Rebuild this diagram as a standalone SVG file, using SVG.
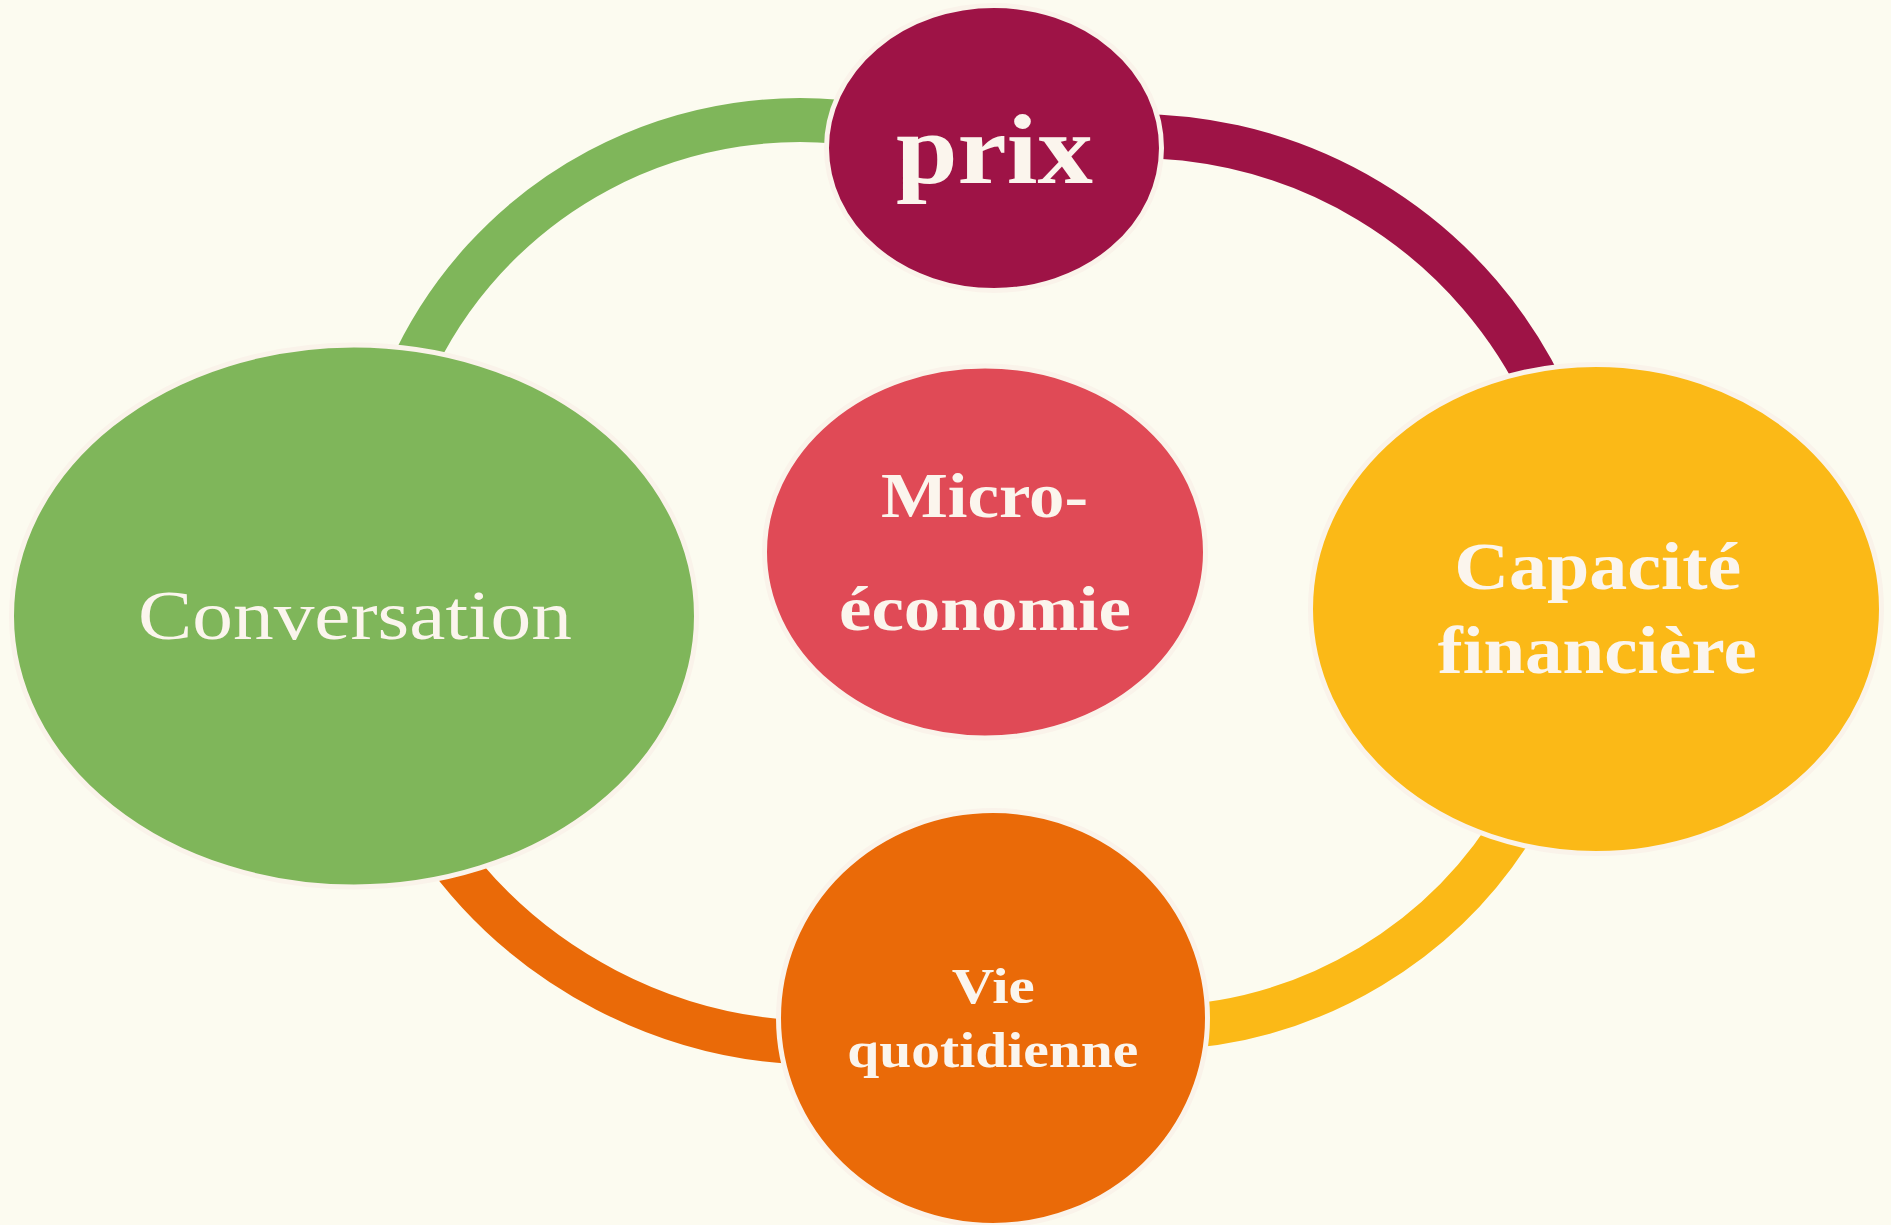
<svg xmlns="http://www.w3.org/2000/svg" width="1891" height="1225" viewBox="0 0 1891 1225">
<style>
.bg{fill:#fcfbf0}
.node{stroke:#faf3ea;stroke-width:5}
.arc{fill:none;stroke-width:44;stroke-linecap:butt}
.lbl{font-family:"Liberation Serif","DejaVu Serif",serif;fill:#fbf5ed;text-anchor:middle;font-weight:bold}
.reg{font-weight:normal}
</style>
<rect class="bg" x="0" y="0" width="1891" height="1225"/>
<g id="connectors">
<path class="arc" stroke="#7fb65a" d="M 409,374 A 428 428 0 0 1 874,126.5"/>
<path class="arc" stroke="#9e1346" d="M 1095.4,137.7 A 454 454 0 0 1 1552.9,412.6"/>
<path class="arc" stroke="#ea6a08" d="M 438,842.6 A 470 470 0 0 0 823,1043"/>
<path class="arc" stroke="#fbb917" d="M 1164,1027.7 A 430 430 0 0 0 1521.4,813"/>
</g>
<g id="node-prix">
<ellipse class="node" cx="994" cy="148" rx="167.5" ry="142.5" fill="#9e1346"/>
<text class="lbl" x="994.5" y="183" font-size="100" textLength="197" lengthAdjust="spacingAndGlyphs">prix</text>
</g>
<g id="node-conversation">
<ellipse class="node" cx="354" cy="616" rx="342.5" ry="271" fill="#7fb65a"/>
<text class="lbl reg" x="355" y="639" font-size="69" textLength="434" lengthAdjust="spacingAndGlyphs">Conversation</text>
</g>
<g id="node-micro">
<ellipse class="node" cx="985" cy="552" rx="220.5" ry="186" fill="#e04a56"/>
<text class="lbl" x="984.5" y="516.7" font-size="63" textLength="207" lengthAdjust="spacingAndGlyphs">Micro-</text>
<text class="lbl" x="985" y="630" font-size="63" textLength="292" lengthAdjust="spacingAndGlyphs">économie</text>
</g>
<g id="node-capacite">
<ellipse class="node" cx="1596" cy="609" rx="285.5" ry="244.5" fill="#fbb917"/>
<text class="lbl" x="1597.7" y="589" font-size="68" textLength="287" lengthAdjust="spacingAndGlyphs">Capacité</text>
<text class="lbl" x="1597.2" y="673.4" font-size="68" textLength="319" lengthAdjust="spacingAndGlyphs">financière</text>
</g>
<g id="node-vie">
<ellipse class="node" cx="993" cy="1018" rx="214.5" ry="207.5" fill="#ea6a08"/>
<text class="lbl" x="993.3" y="1003" font-size="50" textLength="83" lengthAdjust="spacingAndGlyphs">Vie</text>
<text class="lbl" x="992.8" y="1066.7" font-size="50" textLength="291" lengthAdjust="spacingAndGlyphs">quotidienne</text>
</g>
</svg>
